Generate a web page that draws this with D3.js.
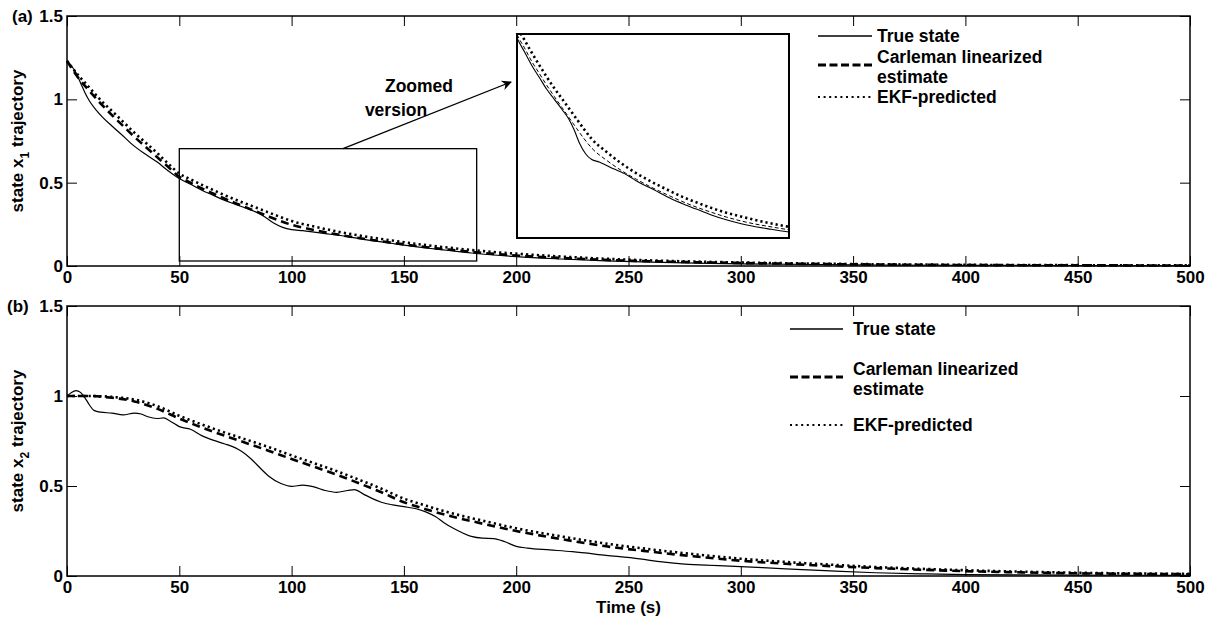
<!DOCTYPE html>
<html>
<head>
<meta charset="utf-8">
<script src="https://cdn.jsdelivr.net/npm/d3@7"></script>
<style>
  html, body { margin: 0; padding: 0; background: #fff; }
  svg { display: block; }
  text { font-family: "Liberation Sans", Arial, Helvetica, sans-serif; font-weight: bold; fill: #000; }
</style>
</head>
<body>
<svg id="chart" width="1217" height="624"></svg>
<script>
// ---------------- DATA ----------------
const xTicks = [0, 50, 100, 150, 200, 250, 300, 350, 400, 450, 500];
const xTickLabels = ["0", "50", "100", "150", "200", "250", "300", "350", "400", "450", "500"];
const yTicks = [0, 0.5, 1, 1.5];
const yTickLabels = ["0", "0.5", "1", "1.5"];
const seriesNames = ["True state", "Carleman linearized", "EKF-predicted"];

// Panel (a): state x1
const tTrueA = [0, 2, 4, 6, 8, 10, 13, 16, 20, 25, 29, 35, 40, 45, 50, 55, 60, 65, 70, 75, 80, 85, 88, 92, 96, 100, 105, 110, 115, 120, 125, 130, 135, 140, 145, 150, 160, 170, 180, 190, 200, 220, 240, 260, 280, 300, 350, 400, 450, 500];
const vTrueA = [1.23, 1.20, 1.16, 1.10, 1.04, 0.99, 0.935, 0.89, 0.84, 0.78, 0.73, 0.67, 0.625, 0.572, 0.525, 0.49, 0.455, 0.425, 0.395, 0.37, 0.345, 0.318, 0.295, 0.258, 0.232, 0.218, 0.212, 0.203, 0.194, 0.186, 0.176, 0.164, 0.154, 0.145, 0.135, 0.125, 0.108, 0.093, 0.078, 0.066, 0.056, 0.042, 0.031, 0.023, 0.017, 0.013, 0.007, 0.004, 0.003, 0.002];
const tEstA = [0, 5, 10, 15, 20, 25, 30, 35, 40, 45, 50, 55, 60, 65, 70, 75, 80, 85, 90, 95, 100, 110, 120, 130, 140, 150, 160, 170, 180, 190, 200, 225, 250, 275, 300, 350, 400, 450, 500];
const vCarlA = [1.23, 1.13, 1.05, 0.975, 0.905, 0.84, 0.775, 0.715, 0.655, 0.595, 0.535, 0.5, 0.465, 0.435, 0.405, 0.377, 0.35, 0.323, 0.296, 0.27, 0.247, 0.216, 0.19, 0.168, 0.148, 0.13, 0.113, 0.098, 0.085, 0.073, 0.063, 0.045, 0.032, 0.024, 0.018, 0.01, 0.006, 0.004, 0.003];
const vEkfA = [1.23, 1.145, 1.07, 0.995, 0.93, 0.865, 0.8, 0.74, 0.68, 0.615, 0.555, 0.52, 0.487, 0.456, 0.426, 0.398, 0.372, 0.346, 0.32, 0.294, 0.27, 0.237, 0.208, 0.183, 0.162, 0.143, 0.125, 0.11, 0.096, 0.084, 0.074, 0.053, 0.038, 0.028, 0.021, 0.012, 0.007, 0.005, 0.004];

// Panel (b): state x2
const tTrueB = [0, 2, 4, 6, 8, 10, 12, 15, 20, 25, 30, 33, 36, 40, 43, 46, 50, 55, 60, 65, 70, 75, 78, 82, 86, 90, 95, 100, 105, 110, 115, 120, 125, 128, 132, 136, 140, 145, 150, 155, 160, 164, 168, 172, 176, 180, 185, 190, 195, 200, 205, 215, 225, 240, 255, 265, 275, 290, 300, 320, 340, 360, 380, 400, 450, 500];
const vTrueB = [1.0, 1.02, 1.03, 1.02, 0.99, 0.95, 0.92, 0.91, 0.905, 0.895, 0.905, 0.9, 0.885, 0.875, 0.878, 0.86, 0.83, 0.815, 0.78, 0.755, 0.735, 0.712, 0.69, 0.65, 0.6, 0.553, 0.515, 0.498, 0.505, 0.495, 0.475, 0.465, 0.475, 0.48, 0.455, 0.43, 0.41, 0.395, 0.385, 0.375, 0.355, 0.33, 0.295, 0.265, 0.24, 0.22, 0.21, 0.208, 0.19, 0.165, 0.155, 0.145, 0.135, 0.115, 0.095, 0.078, 0.066, 0.058, 0.052, 0.04, 0.028, 0.018, 0.012, 0.008, 0.005, 0.003];
const tEstB = [0, 10, 20, 30, 40, 50, 60, 70, 80, 90, 100, 110, 120, 130, 140, 150, 160, 170, 180, 190, 200, 220, 240, 260, 280, 300, 320, 340, 360, 380, 400, 425, 450, 475, 500];
const vCarlB = [1.0, 1.0, 0.99, 0.97, 0.93, 0.875, 0.825, 0.78, 0.738, 0.695, 0.65, 0.607, 0.563, 0.515, 0.465, 0.41, 0.37, 0.335, 0.305, 0.277, 0.25, 0.205, 0.165, 0.135, 0.108, 0.085, 0.068, 0.055, 0.044, 0.035, 0.027, 0.02, 0.015, 0.012, 0.01];
const vEkfB = [1.0, 1.0, 0.995, 0.98, 0.945, 0.89, 0.842, 0.798, 0.757, 0.715, 0.67, 0.627, 0.583, 0.535, 0.485, 0.43, 0.39, 0.353, 0.322, 0.293, 0.265, 0.22, 0.18, 0.148, 0.12, 0.096, 0.078, 0.063, 0.05, 0.04, 0.032, 0.024, 0.018, 0.014, 0.012];

// ---------------- DRAW ----------------
const svg = d3.select("#chart");
const X0 = 67, X1 = 1190;
const FS = 17;

const styles = [
  { width: 1.2, dash: null },
  { width: 2.6, dash: "8,5" },
  { width: 2.6, dash: "2.2,3.2" }
];

function panel(opts) {
  const { top, bottom, label, sub, series, legend } = opts;
  const x = d3.scaleLinear().domain([0, 500]).range([X0, X1]);
  const y = d3.scaleLinear().domain([0, 1.5]).range([bottom, top]);
  const g = svg.append("g");

  g.append("rect").attr("x", X0).attr("y", top).attr("width", X1 - X0).attr("height", bottom - top)
    .attr("fill", "#fff").attr("stroke", "#000").attr("stroke-width", 1.5);

  const axB = d3.axisBottom(x).tickValues(xTicks).tickSize(-10).tickPadding(5).tickFormat(d => xTickLabels[xTicks.indexOf(d)]);
  const axT = d3.axisTop(x).tickValues(xTicks).tickSize(-10).tickFormat("");
  const axL = d3.axisLeft(y).tickValues(yTicks).tickSize(-10).tickPadding(4).tickFormat(d => yTickLabels[yTicks.indexOf(d)]);
  const axR = d3.axisRight(y).tickValues(yTicks).tickSize(-10).tickFormat("");

  [[axB, `translate(0,${bottom})`], [axT, `translate(0,${top})`], [axL, `translate(${X0},0)`], [axR, `translate(${X1},0)`]]
    .forEach(([ax, tr]) => {
      const a = g.append("g").attr("transform", tr).call(ax);
      a.select(".domain").remove();
      a.selectAll(".tick line").attr("stroke", "#000").attr("stroke-width", 1);
      a.selectAll(".tick text").attr("font-size", FS).attr("font-weight", "bold")
        .attr("font-family", "Liberation Sans, Arial, sans-serif").attr("fill", "#000");
    });

  const curves = g.append("g");
  series.forEach((s, i) => {
    const pts = s.t.map((t, k) => [t, s.v[k]]);
    curves.append("path").datum(pts)
      .attr("d", d3.line().x(d => x(d[0])).y(d => y(d[1])).curve(d3.curveMonotoneX))
      .attr("fill", "none").attr("stroke", "#000")
      .attr("stroke-width", styles[i].width)
      .attr("stroke-dasharray", styles[i].dash);
  });

  const yl = g.append("text")
    .attr("transform", `translate(23,${(top + bottom) / 2}) rotate(-90)`)
    .attr("text-anchor", "middle").attr("font-size", FS);
  yl.append("tspan").text("state x");
  yl.append("tspan").attr("font-size", 12).attr("dy", 6).text(sub);
  yl.append("tspan").attr("dy", -6).text(" trajectory");

  g.append("text").attr("x", label.x).attr("y", top).attr("dy", "0.35em")
    .attr("font-size", FS).text(label.text);

  const lg = g.append("g");
  const ys = legend.ys;
  [0, 1, 2].forEach(i => {
    lg.append("line").attr("x1", legend.x1).attr("x2", legend.x2)
      .attr("y1", ys[i]).attr("y2", ys[i]).attr("stroke", "#000")
      .attr("stroke-width", i === 0 ? 1.3 : (i === 1 ? 3 : 2))
      .attr("stroke-dasharray", i === 0 ? null : (i === 1 ? "8,3.5" : "2,3.6"));
  });
  const tx = legend.tx, fs = 17.5;
  lg.append("text").attr("x", tx).attr("y", ys[0]).attr("dy", "0.35em").attr("font-size", fs).text(seriesNames[0]);
  lg.append("text").attr("x", tx).attr("y", ys[1] - 8).attr("dy", "0.35em").attr("font-size", fs).text(seriesNames[1]);
  lg.append("text").attr("x", tx).attr("y", ys[1] + 12).attr("dy", "0.35em").attr("font-size", fs).text("estimate");
  lg.append("text").attr("x", tx).attr("y", ys[2]).attr("dy", "0.35em").attr("font-size", fs).text(seriesNames[2]);

  return { g, x, y };
}

const pa = panel({
  top: 16, bottom: 266, sub: "1",
  label: { x: 12, text: "(a)" },
  series: [{ t: tTrueA, v: vTrueA }, { t: tEstA, v: vCarlA }, { t: tEstA, v: vEkfA }],
  legend: { x1: 818, x2: 872, tx: 877, ys: [36, 65, 97] }
});

const pb = panel({
  top: 306, bottom: 576, sub: "2",
  label: { x: 7, text: "(b)" },
  series: [{ t: tTrueB, v: vTrueB }, { t: tEstB, v: vCarlB }, { t: tEstB, v: vEkfB }],
  legend: { x1: 790, x2: 843, tx: 853, ys: [329, 377, 425] }
});

svg.append("text").attr("x", (X0 + X1) / 2).attr("y", 607).attr("dy", "0.35em")
  .attr("text-anchor", "middle").attr("font-size", FS).text("Time (s)");

// ---- zoom annotation in panel (a) ----
const xa = pa.x, ya = pa.y;
const zoomX = [50, 182.4], zoomY = [0.03, 0.704];
svg.append("rect")
  .attr("x", xa(zoomX[0])).attr("y", ya(zoomY[1]))
  .attr("width", xa(zoomX[1]) - xa(zoomX[0])).attr("height", ya(zoomY[0]) - ya(zoomY[1]))
  .attr("fill", "none").attr("stroke", "#000").attr("stroke-width", 1.3);

const inset = { x0: 517, x1: 789, y0: 34, y1: 238 };
const xi = d3.scaleLinear().domain([50, 232]).range([inset.x0, inset.x1]);
const yi = d3.scaleLinear().domain([0.02, 0.535]).range([inset.y1, inset.y0]);
const defs = svg.append("defs");
defs.append("clipPath").attr("id", "insetClip").append("rect")
  .attr("x", inset.x0).attr("y", inset.y0).attr("width", inset.x1 - inset.x0).attr("height", inset.y1 - inset.y0);
svg.append("rect").attr("x", inset.x0).attr("y", inset.y0)
  .attr("width", inset.x1 - inset.x0).attr("height", inset.y1 - inset.y0).attr("fill", "#fff");
const ig = svg.append("g").attr("clip-path", "url(#insetClip)");
const insetStyles = [{ w: 1.1, d: null }, { w: 1, d: "4,2.5" }, { w: 2.6, d: "2.2,3" }];
[{ t: tTrueA, v: vTrueA }, { t: tEstA, v: vCarlA }, { t: tEstA, v: vEkfA }].forEach((s, i) => {
  const pts = s.t.map((t, k) => [t, s.v[k]]);
  ig.append("path").datum(pts)
    .attr("d", d3.line().x(d => xi(d[0])).y(d => yi(d[1])).curve(d3.curveMonotoneX))
    .attr("fill", "none").attr("stroke", "#000")
    .attr("stroke-width", insetStyles[i].w).attr("stroke-dasharray", insetStyles[i].d);
});
svg.append("rect").attr("x", inset.x0).attr("y", inset.y0)
  .attr("width", inset.x1 - inset.x0).attr("height", inset.y1 - inset.y0)
  .attr("fill", "none").attr("stroke", "#000").attr("stroke-width", 2);

defs.append("marker").attr("id", "arrowHead").attr("viewBox", "0 0 10 10")
  .attr("refX", 9).attr("refY", 5).attr("markerWidth", 14).attr("markerHeight", 10)
  .attr("markerUnits", "userSpaceOnUse").attr("orient", "auto")
  .append("path").attr("d", "M0,0 L10,5 L0,10 L3,5 Z").attr("fill", "#000");
svg.append("line")
  .attr("x1", 343).attr("y1", ya(zoomY[1]))
  .attr("x2", 511).attr("y2", 82)
  .attr("stroke", "#000").attr("stroke-width", 1.3).attr("marker-end", "url(#arrowHead)");

svg.append("text").attr("x", 419).attr("y", 86).attr("dy", "0.35em").attr("text-anchor", "middle")
  .attr("font-size", 17.5).text("Zoomed");
svg.append("text").attr("x", 396).attr("y", 110).attr("dy", "0.35em").attr("text-anchor", "middle")
  .attr("font-size", 17.5).text("version");
</script>
</body>
</html>
